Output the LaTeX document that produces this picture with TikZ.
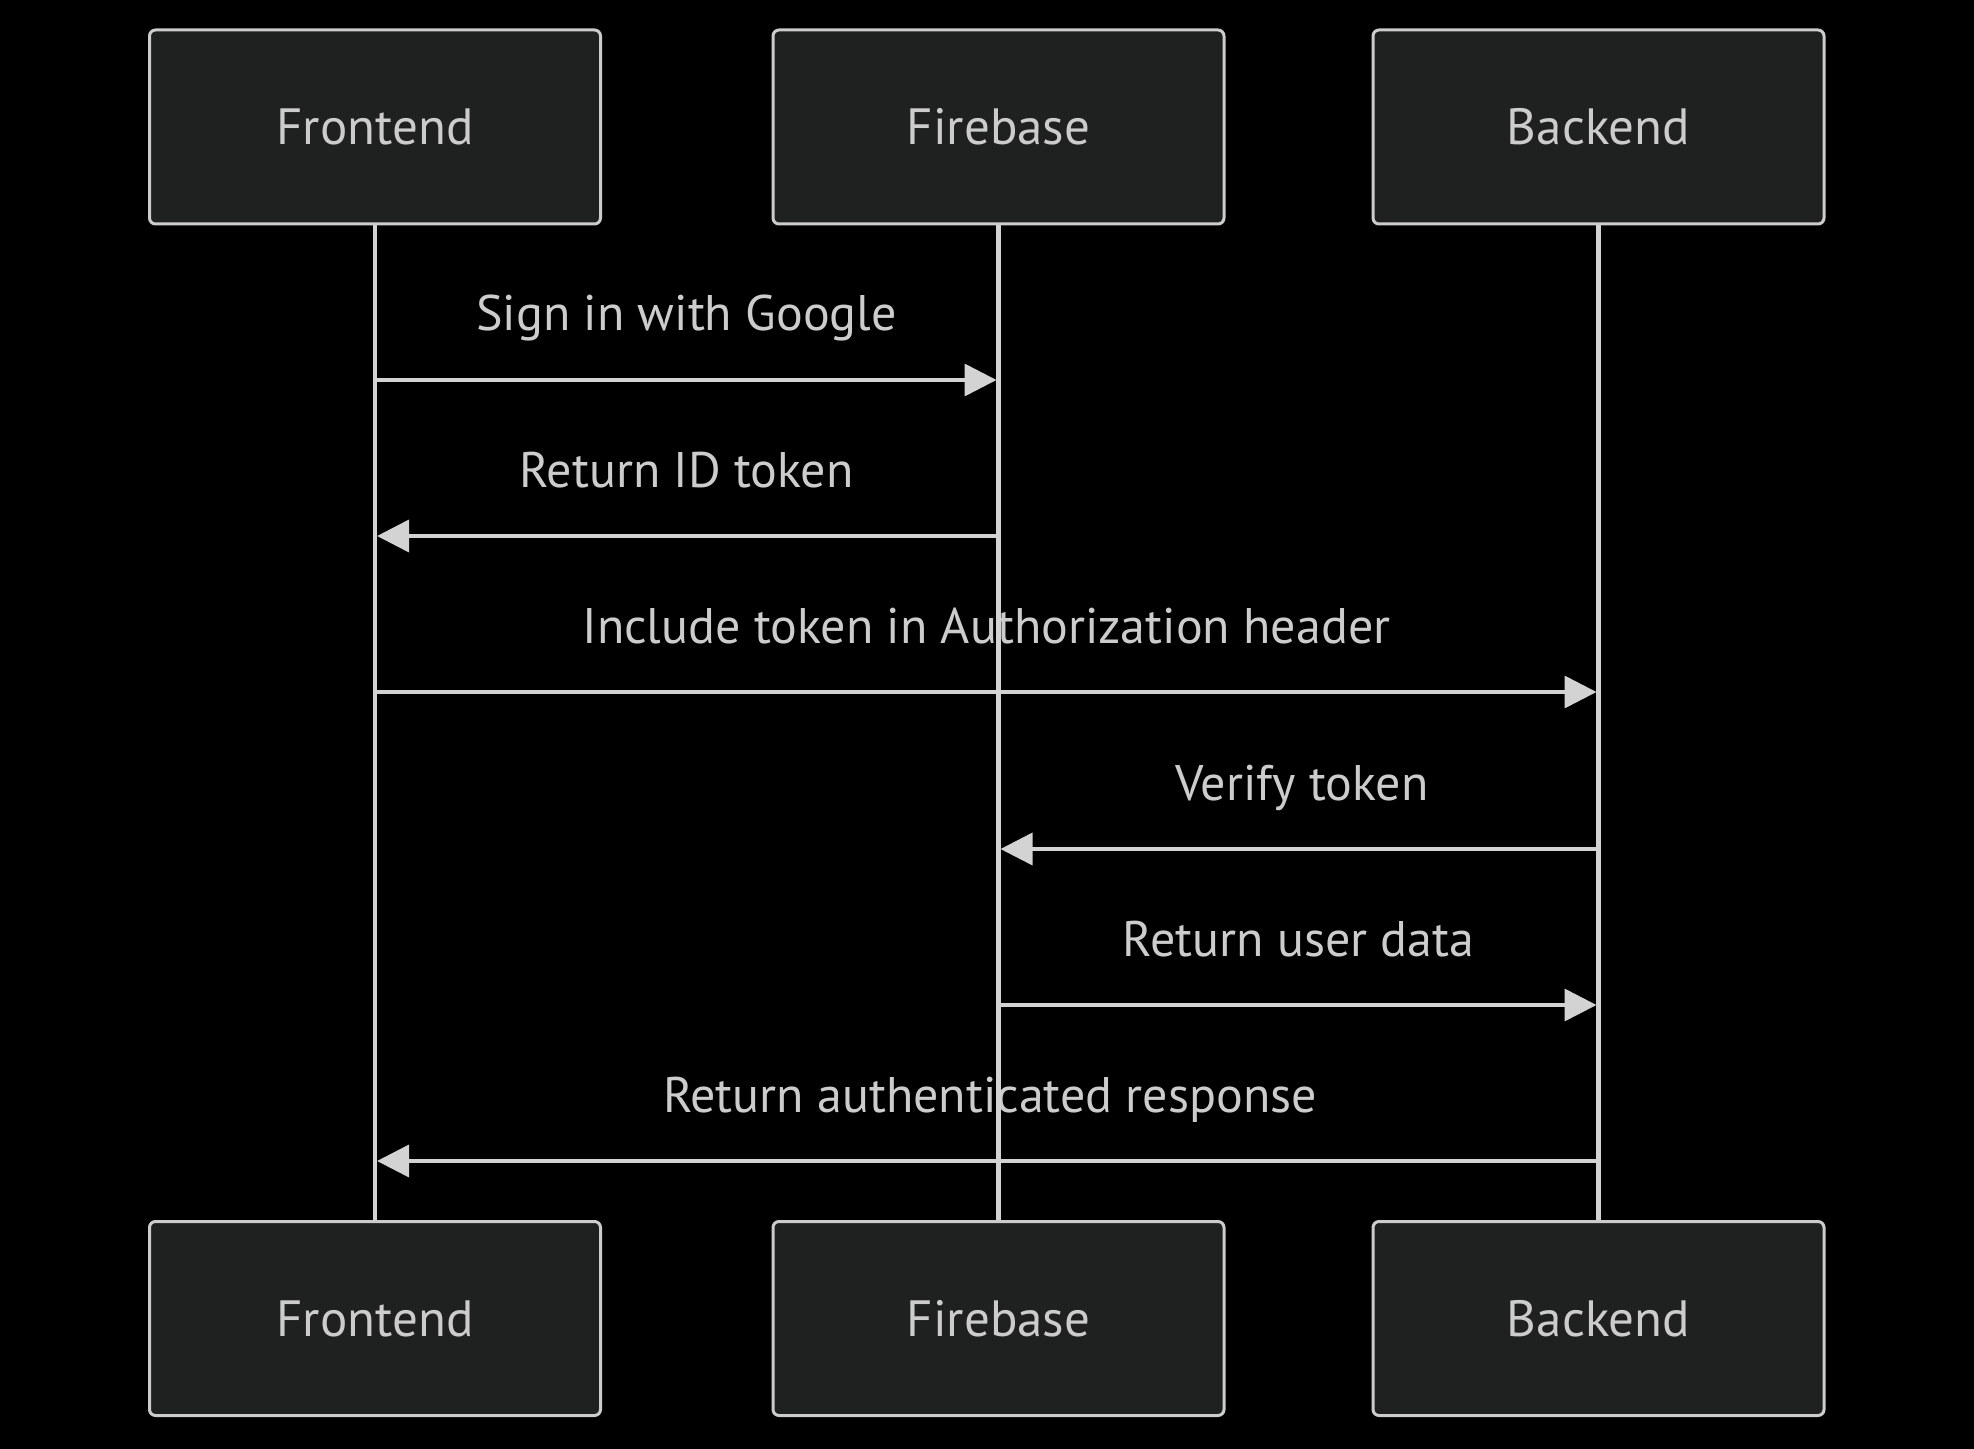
\documentclass[tikz,border=0pt]{standalone}
\usepackage{fontspec}
\setmainfont{PT Sans}
\usetikzlibrary{arrows.meta}
\definecolor{bg}{HTML}{000000}
\definecolor{boxfill}{HTML}{1F2020}
\definecolor{boxline}{HTML}{CCCCCC}
\definecolor{txt}{HTML}{CCCCCC}
\definecolor{ln}{HTML}{D3D3D3}
\tikzset{
  actor/.style={draw=boxline, fill=boxfill, line width=1.5pt, rounded corners=3pt,
    minimum width=225.5pt, minimum height=97pt, inner sep=0pt,
    text=txt, font=\fontsize{25.5pt}{30pt}\selectfont},
  lifeline/.style={draw=ln, line width=2.2pt},
  msg/.style={draw=ln, line width=1.8pt, -{Triangle[length=16pt,width=16pt]}, shorten >=1pt},
  msglabel/.style={text=txt, anchor=base, inner sep=0pt, font=\fontsize{25pt}{30pt}\selectfont}
}
\begin{document}
\begin{tikzpicture}[x=0.5pt,y=-0.5pt]
\fill[bg] (0,0) rectangle (1974,1449);
\useasboundingbox (0,0) rectangle (1974,1449);
% actors
\node[actor] (ft) at (375,127) {Frontend};
\node[actor] (fbt) at (998.5,127) {Firebase};
\node[actor] (bt) at (1598.5,127) {Backend};
\node[actor] (fb) at (375,1318.5) {Frontend};
\node[actor] (fbb) at (998.5,1318.5) {Firebase};
\node[actor] (bb) at (1598.5,1318.5) {Backend};
% message labels
\node[msglabel] (l1) at (686.5,331) {Sign in with Google};
\node[msglabel] (l2) at (686.5,487) {Return ID token};
\node[msglabel] (l3) at (986.5,643) {Include token in Authorization header};
\node[msglabel] (l4) at (1302,800) {Verify token};
\node[msglabel] (l5) at (1298.5,956) {Return user data};
\node[msglabel] (l6) at (990,1112) {Return authenticated response};
% lifelines
\draw[lifeline] (ft.south) -- (fb.north);
\draw[lifeline] (fbt.south) -- (fbb.north);
\draw[lifeline] (bt.south) -- (bb.north);
% message endpoints
\foreach \n/\y in {1/380,2/536,3/692,4/849,5/1005,6/1161}{
  \coordinate (F\n) at (ft.south |- 0,\y);
  \coordinate (G\n) at (fbt.south |- 0,\y);
  \coordinate (B\n) at (bt.south |- 0,\y);
}
% messages
\draw[msg] (F1) -- (G1);
\draw[msg] (G2) -- (F2);
\draw[msg] (F3) -- (B3);
\draw[msg] (B4) -- (G4);
\draw[msg] (G5) -- (B5);
\draw[msg] (B6) -- (F6);
\end{tikzpicture}
\end{document}
